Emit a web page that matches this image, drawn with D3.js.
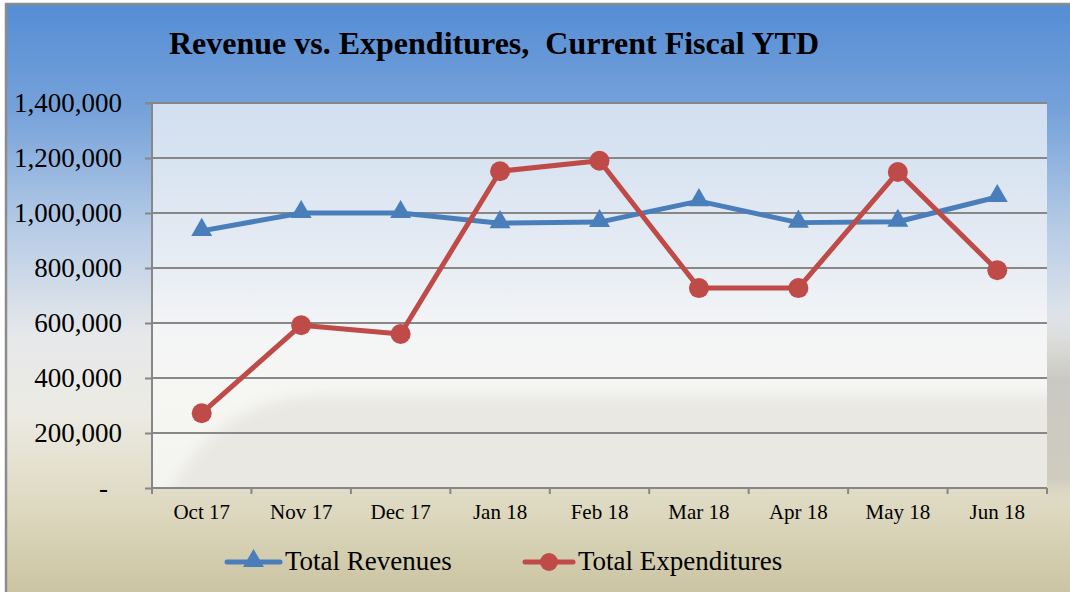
<!DOCTYPE html>
<html>
<head>
<meta charset="utf-8">
<script src="https://cdn.jsdelivr.net/npm/d3@7"></script>
<style>
  body { margin: 0; background: #fff; }
  svg text { font-family: "Liberation Serif", "Times New Roman", serif; }
</style>
</head>
<body>
<div id="chart"></div>
<script>
const months = ["Oct 17", "Nov 17", "Dec 17", "Jan 18", "Feb 18", "Mar 18", "Apr 18", "May 18", "Jun 18"];
const revenues = [935000, 1000000, 1000000, 963000, 967000, 1043000, 965000, 968000, 1058000];
const expenditures = [272000, 592000, 560000, 1152000, 1190000, 727000, 727000, 1149000, 792000];
const yTicks = [0, 200000, 400000, 600000, 800000, 1000000, 1200000, 1400000];

const width = 1070, height = 592;
const margin = { top: 103, right: 23, bottom: 104, left: 152 };
const plotW = width - margin.left - margin.right;
const plotH = height - margin.top - margin.bottom;

const blue = "#4a7ebb", red = "#be4b48", grid = "#878787";

const svg = d3.select("#chart").append("svg")
  .attr("width", width)
  .attr("height", height);

const defs = svg.append("defs");

const bgGrad = defs.append("linearGradient").attr("id", "bg")
  .attr("x1", 0).attr("y1", 0).attr("x2", 0).attr("y2", 1);
[[0, "#548dd4"], [0.18, "#77a2da"], [0.38, "#b8cde6"], [0.55, "#e6e8ea"], [0.68, "#ecebe3"], [0.85, "#dcd7bd"], [1, "#c8c19e"]]
  .forEach(([o, c]) => bgGrad.append("stop").attr("offset", o).attr("stop-color", c));

const plotGrad = defs.append("linearGradient").attr("id", "plotbg")
  .attr("x1", 0).attr("y1", 0).attr("x2", 0).attr("y2", 1);
[[0, "#d1dff0"], [0.35, "#e3eaf3"], [0.6, "#f4f5f6"], [0.75, "#f6f6f3"], [1, "#f4f4f0"]]
  .forEach(([o, c]) => plotGrad.append("stop").attr("offset", o).attr("stop-color", c));

const sideGrad = defs.append("linearGradient").attr("id", "side")
  .attr("x1", 0).attr("y1", 0).attr("x2", 0).attr("y2", 1);
[[0, "#c9c8c2", 0], [0.35, "#c9c8c2", 1], [0.85, "#cfccbf", 1], [1, "#dedbc6", 0]]
  .forEach(([o, c, a]) => sideGrad.append("stop").attr("offset", o).attr("stop-color", c).attr("stop-opacity", a));

defs.append("filter").attr("id", "soft")
  .attr("x", "-10%").attr("y", "-20%").attr("width", "120%").attr("height", "140%")
  .append("feGaussianBlur").attr("stdDeviation", 7);

defs.append("clipPath").attr("id", "plotclip")
  .append("rect").attr("width", plotW).attr("height", plotH);

// background frame
svg.append("rect")
  .attr("x", 6).attr("y", 4).attr("width", width + 10).attr("height", height + 10)
  .attr("fill", "url(#bg)")
  .attr("stroke", "#8c8c8c").attr("stroke-width", 2.5);

// soft shadow right of the plot
svg.append("rect")
  .attr("x", width - margin.right).attr("y", margin.top + plotH * 0.55)
  .attr("width", margin.right).attr("height", plotH * 0.5)
  .attr("fill", "url(#side)");

const g = svg.append("g").attr("transform", `translate(${margin.left},${margin.top})`);

g.append("rect").attr("width", plotW).attr("height", plotH).attr("fill", "url(#plotbg)");

// diagonal shading in lower plot
g.append("g").attr("clip-path", "url(#plotclip)")
  .append("path")
  .attr("d", `M10,${plotH + 20} C40,${plotH * 0.9} 70,${plotH * 0.78} 160,${plotH * 0.76} L${plotW + 30},${plotH * 0.76} L${plotW + 30},${plotH + 30} Z`)
  .attr("fill", "#e9e8e3")
  .attr("filter", "url(#soft)");

const x = d3.scaleBand().domain(months).range([0, plotW]);
const y = d3.scaleLinear().domain([0, 1400000]).range([plotH, 0]);

// gridlines
g.append("g").selectAll("line")
  .data(yTicks.filter(d => d > 0))
  .join("line")
  .attr("x1", 0).attr("x2", plotW)
  .attr("y1", d => y(d)).attr("y2", d => y(d))
  .attr("stroke", grid).attr("stroke-width", 2);

// y axis
const fmt = d3.format(",");
const yAxis = g.append("g")
  .call(d3.axisLeft(y).tickValues(yTicks).tickSize(7).tickPadding(23)
    .tickFormat(d => d === 0 ? "-" : fmt(d)));
yAxis.select(".domain").attr("stroke", grid).attr("stroke-width", 2).attr("d", `M-7,0H0V${plotH}`);
yAxis.selectAll(".tick line").attr("stroke", grid).attr("stroke-width", 2);
yAxis.selectAll(".tick text")
  .attr("font-size", 27).attr("fill", "#000")
  .attr("dy", "0.33em")
  .attr("dx", d => d === 0 ? -14 : 0);

// x axis
const xAxis = g.append("g").attr("transform", `translate(0,${plotH})`)
  .call(d3.axisBottom(x).tickSize(0).tickPadding(16));
xAxis.select(".domain").attr("stroke", grid).attr("stroke-width", 2).attr("d", `M0,0H${plotW}`);
xAxis.selectAll(".tick text")
  .attr("font-size", 21).attr("fill", "#000");
xAxis.append("g").selectAll("line")
  .data(d3.range(months.length + 1))
  .join("line")
  .attr("x1", i => i * x.step()).attr("x2", i => i * x.step())
  .attr("y1", 0).attr("y2", 6)
  .attr("stroke", grid).attr("stroke-width", 2);

const cx = d => x(d) + x.bandwidth() / 2;
const line = d3.line().x(d => cx(d[0])).y(d => y(d[1]));

const triangle = d3.symbol().type(d3.symbolTriangle).size(190);

// revenues
const revData = months.map((m, i) => [m, revenues[i]]);
g.append("path").datum(revData)
  .attr("d", line).attr("fill", "none")
  .attr("stroke", blue).attr("stroke-width", 5).attr("stroke-linejoin", "round");
g.append("g").selectAll("path")
  .data(revData).join("path")
  .attr("d", triangle)
  .attr("transform", d => `translate(${cx(d[0])},${y(d[1]) - 1})`)
  .attr("fill", blue);

// expenditures
const expData = months.map((m, i) => [m, expenditures[i]]);
g.append("path").datum(expData)
  .attr("d", line).attr("fill", "none")
  .attr("stroke", red).attr("stroke-width", 5).attr("stroke-linejoin", "round");
g.append("g").selectAll("circle")
  .data(expData).join("circle")
  .attr("cx", d => cx(d[0])).attr("cy", d => y(d[1]))
  .attr("r", 10)
  .attr("fill", red);

// title
svg.append("text")
  .attr("x", 494).attr("y", 54)
  .attr("text-anchor", "middle")
  .attr("font-size", 32).attr("font-weight", "bold")
  .attr("xml:space", "preserve")
  .text("Revenue vs. Expenditures,  Current Fiscal YTD");

// legend
const legendItems = [
  { label: "Total Revenues", color: blue, x1: 227, x2: 280, marker: "triangle" },
  { label: "Total Expenditures", color: red, x1: 525, x2: 573, marker: "circle" }
];
const legendY = 562;
const legend = svg.append("g");
legendItems.forEach(item => {
  const lg = legend.append("g");
  lg.append("line")
    .attr("x1", item.x1).attr("x2", item.x2)
    .attr("y1", legendY).attr("y2", legendY)
    .attr("stroke", item.color).attr("stroke-width", 5).attr("stroke-linecap", "round");
  const mx = (item.x1 + item.x2) / 2;
  if (item.marker === "triangle") {
    lg.append("path").attr("d", triangle)
      .attr("transform", `translate(${mx},${legendY - 1})`).attr("fill", item.color);
  } else {
    lg.append("circle").attr("cx", mx).attr("cy", legendY).attr("r", 9).attr("fill", item.color);
  }
  lg.append("text")
    .attr("x", item.x2 + 5).attr("y", legendY + 8)
    .attr("font-size", 27).attr("fill", "#000")
    .text(item.label);
});
</script>
</body>
</html>
